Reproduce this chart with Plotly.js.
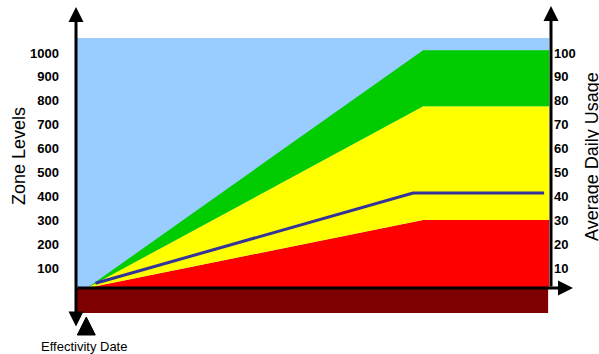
<!DOCTYPE html>
<html>
<head>
<meta charset="utf-8">
<script src="https://cdn.plot.ly/plotly-3.0.1.min.js"></script>
<style>html,body{margin:0;padding:0;background:#fff;}#chart{width:599px;height:354px;}</style>
</head>
<body>
<div id="chart"></div>
<script>
// Time axis: weeks after the effectivity date
const zoneDates = [0, 10, 13.75];
const redZoneTop = [0, 285, 285];
const yellowZoneTop = [0, 760, 760];
const greenZoneTop = [0, 995, 995];
const usageDates = [0.25, 9.7, 13.6];
const averageDailyUsage = [2, 39.7, 39.7];
const effectivityDate = 0;
const zoneTickVals = [100, 200, 300, 400, 500, 600, 700, 800, 900, 1000];
const usageTickVals = [10, 20, 30, 40, 50, 60, 70, 80, 90, 100];

const X_MIN = -0.3, X_MAX = 14.46, CHART_END = 13.75;
const Y_MIN = -104.6, Y_MAX = 1046;
const FONT = 'Liberation Sans, Arial, sans-serif';

const traces = [
  {x: zoneDates, y: redZoneTop, type: 'scatter', mode: 'lines', fill: 'tozeroy',
   fillcolor: '#FF0000', line: {width: 0, color: '#FF0000'}, hoverinfo: 'skip'},
  {x: zoneDates, y: yellowZoneTop, type: 'scatter', mode: 'lines', fill: 'tonexty',
   fillcolor: '#FFFF00', line: {width: 0, color: '#FFFF00'}, hoverinfo: 'skip'},
  {x: zoneDates, y: greenZoneTop, type: 'scatter', mode: 'lines', fill: 'tonexty',
   fillcolor: '#00CC00', line: {width: 0, color: '#00CC00'}, hoverinfo: 'skip'},
  {x: usageDates, y: averageDailyUsage, yaxis: 'y2', type: 'scatter', mode: 'lines',
   line: {width: 3, color: '#333399'}, hoverinfo: 'skip'}
];

function arrow(x, y, ax, ay, both) {
  return {xref: 'paper', yref: 'paper', x: x, y: y, ax: ax, ay: ay, axref: 'pixel', ayref: 'pixel',
    text: '', showarrow: true, arrowhead: 2, arrowsize: 1, arrowwidth: 3, arrowcolor: '#000',
    arrowside: both ? 'end+start' : 'end', startarrowhead: 2, startarrowsize: 1, standoff: 0, startstandoff: 0};
}

// effectivity date marker (triangle below the time axis), in paper coordinates
const effX = (effectivityDate - X_MIN) / (X_MAX - X_MIN) - 0.8 / 496;
const triHalf = 9 / 496, triTop = (313 - 317) / 275, triBot = (313 - 335) / 275;

const layout = {
  width: 599, height: 354,
  margin: {l: 77, r: 26, t: 38, b: 41, pad: 0},
  paper_bgcolor: '#fff', plot_bgcolor: 'rgba(0,0,0,0)',
  showlegend: false,
  xaxis: {range: [X_MIN, X_MAX], visible: false, fixedrange: true},
  yaxis: {range: [Y_MIN, Y_MAX], tickvals: zoneTickVals, showgrid: false, zeroline: false,
    showline: false, ticks: '', ticklabelstandoff: 17, ticklabelshift: 4,
    tickfont: {family: FONT, size: 13, weight: 'bold', color: '#000'}},
  yaxis2: {range: [Y_MIN / 10, Y_MAX / 10], tickvals: usageTickVals, overlaying: 'y', side: 'right',
    anchor: 'free', position: (551 - 77) / 496, showgrid: false, zeroline: false, showline: false,
    ticks: '', ticklabelstandoff: 2, ticklabelshift: 4,
    tickfont: {family: FONT, size: 13, weight: 'bold', color: '#000'}},
  shapes: [
    {type: 'rect', xref: 'x', yref: 'y', x0: X_MIN, x1: CHART_END, y0: 0, y1: Y_MAX,
     fillcolor: '#99CCFF', line: {width: 0}, layer: 'below'},
    {type: 'rect', xref: 'x', yref: 'y', x0: X_MIN, x1: CHART_END - 0.03, y0: Y_MIN, y1: 0,
     fillcolor: '#7F0000', line: {width: 0}, layer: 'below'},
    {type: 'path', xref: 'paper', yref: 'paper',
     path: `M ${effX - triHalf},${triBot} L ${effX + triHalf},${triBot} L ${effX},${triTop} Z`,
     fillcolor: '#000', line: {width: 1, color: '#000'}}
  ],
  annotations: [
    arrow(-0.002, (313 - 7) / 275, 0, 321, true),
    arrow(1.0, (313 - 288) / 275, -497, 0, false),
    arrow((551 - 77) / 496, (313 - 6) / 275, 0, 282, false),
    {xref: 'paper', yref: 'paper', x: (19 - 77) / 496, y: (313 - 156) / 275, text: 'Zone Levels',
     showarrow: false, textangle: -90, xanchor: 'center', yanchor: 'middle',
     font: {family: FONT, size: 18, color: '#000'}},
    {xref: 'paper', yref: 'paper', x: (592 - 77) / 496, y: (313 - 157) / 275, text: 'Average Daily Usage',
     showarrow: false, textangle: -90, xanchor: 'center', yanchor: 'middle',
     font: {family: FONT, size: 18, color: '#000'}},
    {xref: 'paper', yref: 'paper', x: (84 - 77) / 496, y: (313 - 346) / 275, text: 'Effectivity Date',
     showarrow: false, xanchor: 'center', yanchor: 'middle',
     font: {family: FONT, size: 13, color: '#000'}}
  ]
};

Plotly.newPlot('chart', traces, layout, {displayModeBar: false, staticPlot: true});
</script>
</body>
</html>
